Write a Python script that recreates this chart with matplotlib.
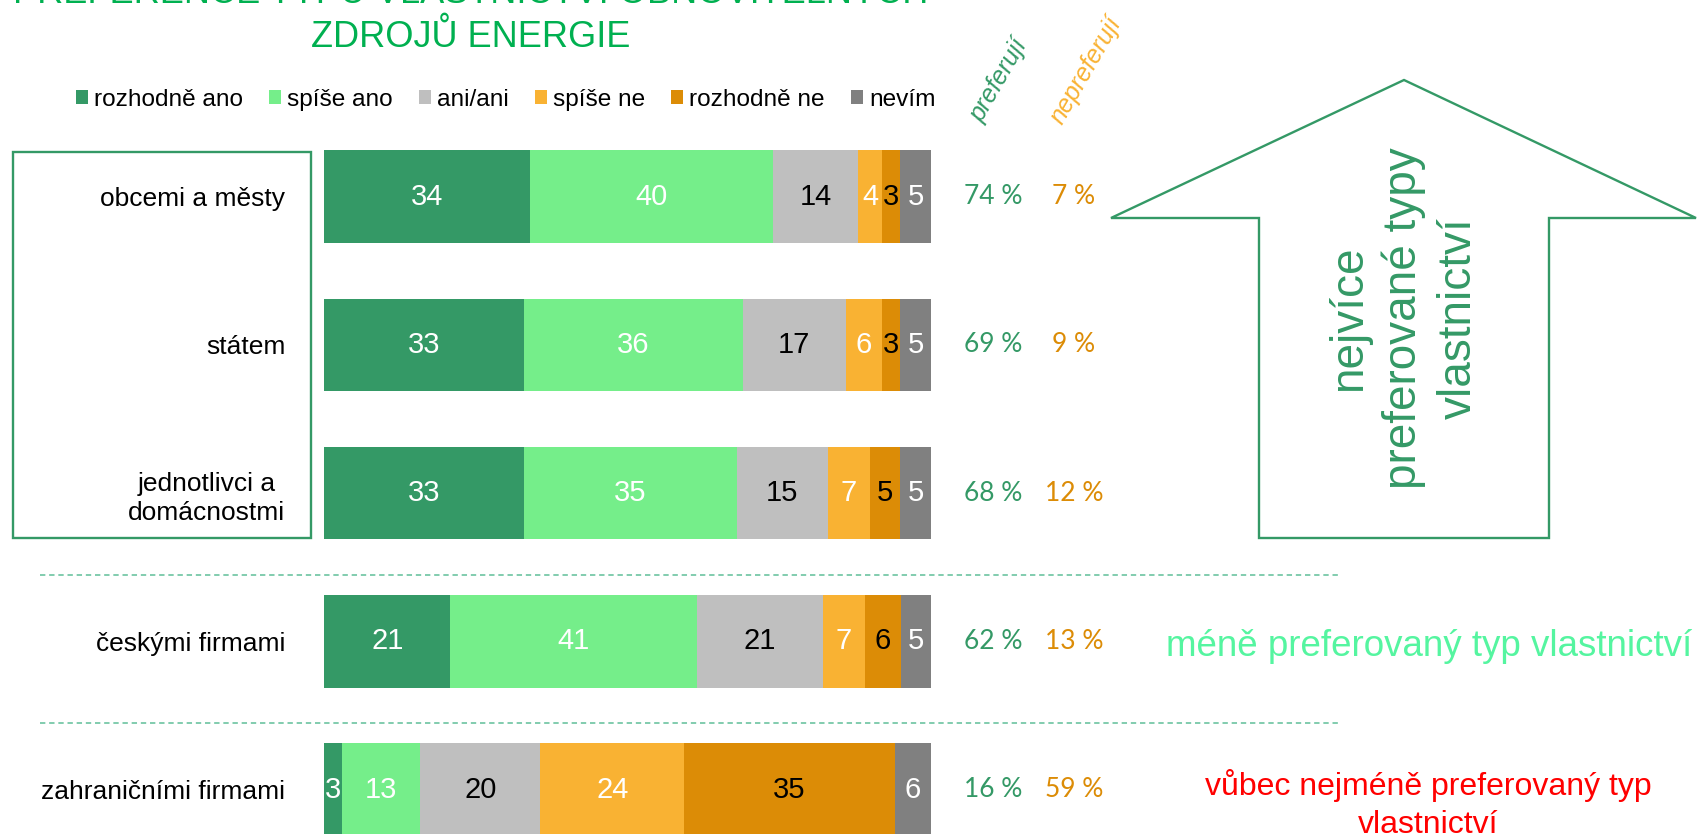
import matplotlib.pyplot as plt
from matplotlib.patches import Patch, Polygon, Rectangle
from matplotlib.transforms import blended_transform_factory

plt.rcParams["font.family"] = ["Liberation Sans", "DejaVu Sans"]

W, H = 1698, 834

TITLE_LINES = ["PREFERENCE TYPŮ VLASTNICTVÍ OBNOVITELNÝCH", "ZDROJŮ ENERGIE"]

categories = [
	"obcemi a městy",
	"státem",
	"jednotlivci a\ndomácnostmi",
	"českými firmami",
	"zahraničními firmami",
]
answers = ["rozhodně ano", "spíše ano", "ani/ani", "spíše ne", "rozhodně ne", "nevím"]

rozhodne_ano = [34, 33, 33, 21, 3]
spise_ano = [40, 36, 35, 41, 13]
ani_ani = [14, 17, 15, 21, 20]
spise_ne = [4, 6, 7, 7, 24]
rozhodne_ne = [3, 3, 5, 6, 35]
nevim = [5, 5, 5, 5, 6]

preferuji = [74, 69, 68, 62, 16]
nepreferuji = [7, 9, 12, 13, 59]

series = [rozhodne_ano, spise_ano, ani_ani, spise_ne, rozhodne_ne, nevim]
colors = ["#349966", "#75EE8A", "#BFBFBF", "#F9B233", "#DC8C06", "#808080"]
label_colors = ["white", "white", "black", "white", "black", "white"]

GREEN = "#349966"
ORANGE = "#DC8C06"

fig = plt.figure(figsize=(W / 100, H / 100), dpi=100)

# overlay in pixel coordinates for the decorations
over = fig.add_axes([0, 0, 1, 1])
over.set_xlim(0, W)
over.set_ylim(H, 0)
over.axis("off")

# bar axes: x 0-100 % maps to 324..931 px, rows 148 px apart
row0, step = 196.7, 148.2
top_px = row0 - step / 2
bot_px = row0 + step * 4.5
ax = fig.add_axes([324.2 / W, 1 - bot_px / H, 606.5 / W, (bot_px - top_px) / H])
ax.patch.set_alpha(0)

totals = [sum(s[i] for s in series) for i in range(len(categories))]
left = [0.0] * len(categories)
for k, s in enumerate(series):
	widths = [v / t * 100 for v, t in zip(s, totals)]
	bars = ax.barh(range(len(categories)), widths, left=left, height=0.625,
		color=colors[k], label=answers[k], linewidth=0)
	ax.bar_label(bars, labels=[str(v) for v in s], label_type="center",
		color=label_colors[k], fontsize=21)
	left = [l + w for l, w in zip(left, widths)]

ax.set_xlim(0, 100)
ax.set_ylim(len(categories) - 0.5, -0.5)
ax.set_xticks([])
ax.set_yticks(range(len(categories)), categories, fontsize=19)
for lbl in ax.get_yticklabels():
	lbl.set_multialignment("center")
	lbl.set_linespacing(1.3)
ax.tick_params(axis="y", length=0, pad=28)
for sp in ax.spines.values():
	sp.set_visible(False)

# preferuji / nepreferuji columns
tr = blended_transform_factory(over.transData, ax.transData)
for i in range(len(categories)):
	ax.text(993, i, f"{preferuji[i]} %", transform=tr, ha="center", va="center",
		color=GREEN, fontsize=19, family=["Lato", "DejaVu Sans"])
	ax.text(1074, i, f"{nepreferuji[i]} %", transform=tr, ha="center", va="center",
		color=ORANGE, fontsize=19, family=["Lato", "DejaVu Sans"])

over.text(999, 80, "preferují", rotation=60, rotation_mode="anchor", ha="center", va="center",
	style="italic", color=GREEN, fontsize=18)
over.text(1086, 70, "nepreferují", rotation=60, rotation_mode="anchor", ha="center", va="center",
	style="italic", color="#F9B233", fontsize=18)

# title, first line runs off the top edge
over.text(471, 3, TITLE_LINES[0], ha="center", va="baseline", color="#00B050", fontsize=26)
over.text(471, 47, TITLE_LINES[1], ha="center", va="baseline", color="#00B050", fontsize=26)

# legend
handles = [Patch(facecolor=c, label=a) for c, a in zip(colors, answers)]
fig.legend(handles=handles, loc="center", bbox_to_anchor=(505.5 / W, 1 - 100 / H), ncol=6,
	frameon=False, fontsize=17.6, handlelength=0.49, handleheight=0.49,
	handletextpad=0.25, columnspacing=1.07, borderpad=0, borderaxespad=0)

# box around the most preferred group
over.add_patch(Rectangle((13, 151.5), 298, 386, fill=False, edgecolor=GREEN, linewidth=1.7))

# dashed separators
for y in (575, 723):
	over.plot([40, 1340], [y, y], color="#5FBF98", linewidth=1.1, linestyle=(0, (3.5, 2.5)))

# big arrow
arrow = [(1111, 218), (1404, 80), (1696, 218), (1549, 218), (1549, 538), (1259, 538), (1259, 218)]
over.add_patch(Polygon(arrow, closed=True, facecolor="white", edgecolor=GREEN, linewidth=1.7))
over.text(1404, 318, "nejvíce\npreferované typy\nvlastnictví", rotation=90, ha="center", va="center",
	multialignment="center", color=GREEN, fontsize=33, linespacing=1.3)

over.text(1429, 656, "méně preferovaný typ vlastnictví", ha="center", va="baseline",
	color="#55F5A0", fontsize=26.5)
over.text(1428, 795, "vůbec nejméně preferovaný typ", ha="center", va="baseline",
	color="#FF0000", fontsize=23)
over.text(1428, 833, "vlastnictví", ha="center", va="baseline", color="#FF0000", fontsize=23)

fig.savefig("out.png", dpi=100)
